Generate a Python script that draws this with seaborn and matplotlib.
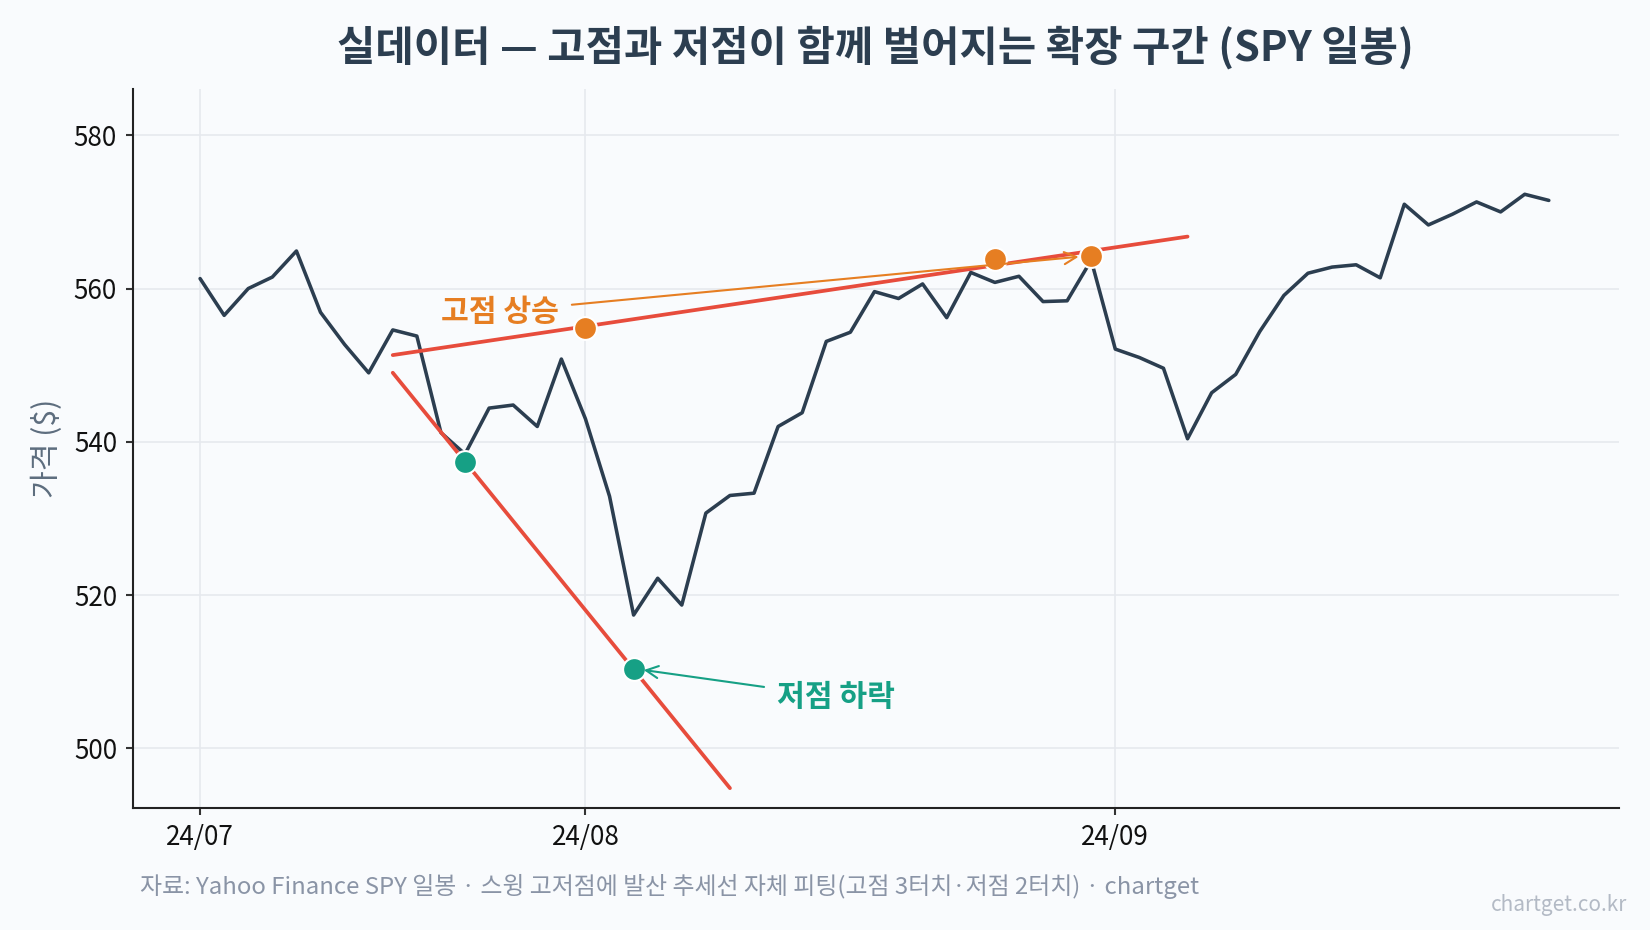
import matplotlib
matplotlib.use('Agg')
import matplotlib.pyplot as plt
import numpy as np
import pandas as pd
import seaborn as sns

# SPY daily closes, 2024-07-10 .. 2024-09-27 (trading-day index on x)
close = [561.3, 556.5, 560.0, 561.5, 564.9, 556.9, 552.7, 549.0, 554.6, 553.8,
         541.2, 538.4, 544.4, 544.8, 542.0, 550.8,
         543.0, 532.9, 517.4, 522.2, 518.7, 530.7, 533.0, 533.3, 542.0, 543.8,
         553.1, 554.3, 559.6, 558.7, 560.6, 556.2, 562.1, 560.8, 561.6, 558.3,
         558.4, 563.7,
         552.1, 551.0, 549.6, 540.4, 546.4, 548.8, 554.4, 559.1, 562.0, 562.8,
         563.1, 561.4, 571.0, 568.3, 569.7, 571.3, 570.0, 572.3, 571.5]
tick_pos = [0, 16, 38]
tick_lab = ['24/07', '24/08', '24/09']

# swing touches (daily high / low)
hi_idx = [16, 33, 37]
hi_val = [554.9, 563.9, 564.2]
lo_idx = [11, 18]
lo_val = [537.4, 510.3]
hi_span = [8, 41]
lo_span = [8, 22]

C_PRICE = '#2c3e50'
C_TREND = '#e74c3c'
C_HI = '#e67e22'
C_LO = '#16a085'
BG = '#f9fbfd'

sns.set_style('whitegrid')
plt.rcParams['font.family'] = ['Noto Sans CJK KR', 'DejaVu Sans']

fig = plt.figure(figsize=(11, 6.2), dpi=150, facecolor=BG)
ax = fig.add_axes([0.0804, 0.131, 0.9006, 0.773])
ax.set_facecolor(BG)

df = pd.DataFrame({'i': np.arange(len(close)), 'close': close})
sns.lineplot(data=df, x='i', y='close', ax=ax, color=C_PRICE, lw=1.7, zorder=3)

# fitted trend lines
p_hi = np.polyfit(hi_idx, hi_val, 1)
p_lo = np.polyfit(lo_idx, lo_val, 1)
xs_hi = np.array(hi_span)
xs_lo = np.array(lo_span)
ax.plot(xs_hi, np.polyval(p_hi, xs_hi), color=C_TREND, lw=1.8, zorder=4)
ax.plot(xs_lo, np.polyval(p_lo, xs_lo), color=C_TREND, lw=1.8, zorder=4)

sns.scatterplot(x=hi_idx, y=hi_val, ax=ax, color=C_HI, s=120, edgecolor='white',
                linewidth=1.0, zorder=5)
sns.scatterplot(x=lo_idx, y=lo_val, ax=ax, color=C_LO, s=120, edgecolor='white',
                linewidth=1.0, zorder=5)

ax.annotate('고점 상승', xy=(hi_idx[-1] - 0.35, hi_val[-1]), xytext=(12.45, 557.0),
            ha='center', va='center', fontsize=14.5, fontweight='bold', color=C_HI,
            arrowprops=dict(arrowstyle='->', color=C_HI, lw=1.0,
                            shrinkA=4, shrinkB=2), zorder=6)
ax.annotate('저점 하락', xy=(lo_idx[-1] + 0.25, lo_val[-1]), xytext=(26.4, 506.7),
            ha='center', va='center', fontsize=14.5, fontweight='bold', color=C_LO,
            arrowprops=dict(arrowstyle='->', color=C_LO, lw=1.0,
                            shrinkA=4, shrinkB=2), zorder=6)

ax.set_xlim(-2.8, 58.9)
ax.set_ylim(492.2, 586.0)
ax.set_xticks(tick_pos)
ax.set_xticklabels(tick_lab)
ax.set_yticks([500, 520, 540, 560, 580])
ax.tick_params(axis='both', labelsize=12.5, colors='#111111', length=3.5,
               width=1.0, pad=4, color='#333333', bottom=True, left=True)
ax.grid(True, color='#e6e9ee', lw=0.8)
ax.set_xlabel('')
ax.set_ylabel('가격 ($)', fontsize=14.5, color='#5d6d7e', labelpad=5)
for s in ['top', 'right']:
    ax.spines[s].set_visible(False)
for s in ['left', 'bottom']:
    ax.spines[s].set_color('#222222')
    ax.spines[s].set_linewidth(1.0)

fig.text(0.5305, 0.949, '실데이터 — 고점과 저점이 함께 벌어지는 확장 구간 (SPY 일봉)',
         ha='center', va='center', fontsize=20, fontweight='bold', color=C_PRICE)
fig.text(0.085, 0.047,
         '자료: Yahoo Finance SPY 일봉 · 스윙 고저점에 발산 추세선 자체 피팅(고점 3터치·저점 2터치) · chartget',
         ha='left', va='center', fontsize=11.5, color='#8a94a6')
fig.text(0.986, 0.027, 'chartget.co.kr', ha='right', va='center', fontsize=10,
         color='#b3bac5')

fig.savefig('out.png', dpi=150, facecolor=BG)
